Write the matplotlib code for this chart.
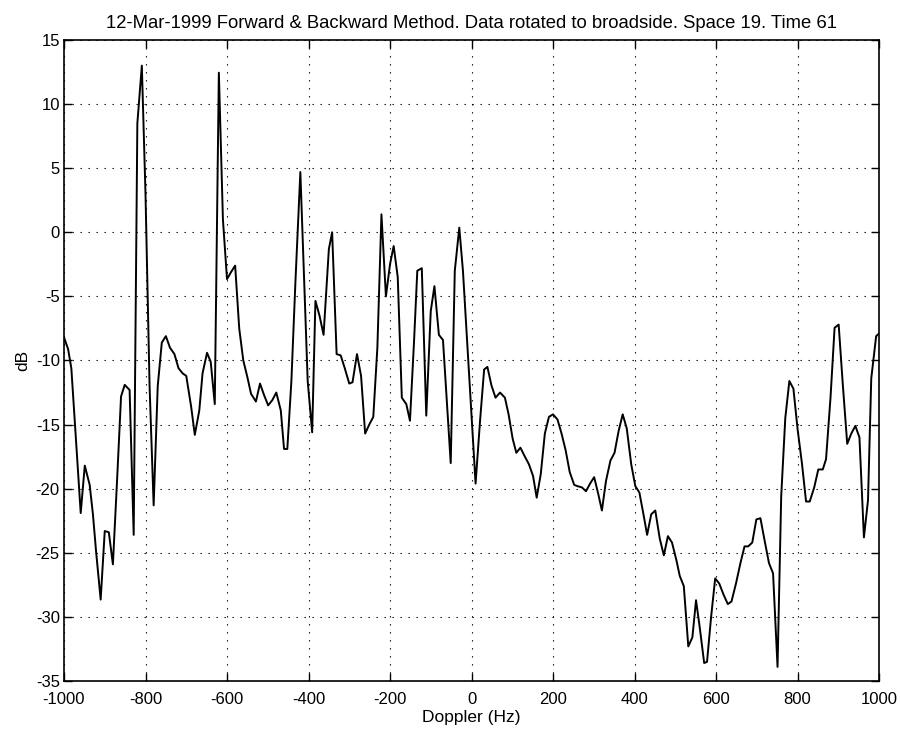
import matplotlib
matplotlib.use("Agg")
import matplotlib.pyplot as plt

plt.rcParams['font.family'] = ['Liberation Sans', 'DejaVu Sans']
plt.rcParams['axes.unicode_minus'] = False

title = "12-Mar-1999 Forward & Backward Method. Data rotated to broadside. Space 19. Time 61"
xlabel = "Doppler (Hz)"
ylabel = "dB"

doppler_hz = [
    -1000, -990, -982, -970, -959, -949, -937, -929, -921, -910,
    -900, -890, -880, -870, -860, -851, -839, -829, -820, -809,
    -800, -790, -780, -770, -760, -750, -740, -729, -719, -709,
    -700, -688, -679, -668, -660, -649, -640, -630, -620, -610,
    -600, -590, -580, -570, -560, -550, -541, -529, -519, -509,
    -499, -489, -479, -468, -460, -452, -442, -432, -420, -410,
    -402, -391, -383, -373, -363, -350, -342, -331, -321, -311,
    -300, -292, -281, -271, -261, -251, -241, -231, -221, -210,
    -200, -191, -181, -171, -160, -151, -141, -133, -122, -111,
    -100, -91, -80, -70, -61, -51, -41, -30, -21, 10,
    21, 31, 39, 49, 59, 70, 82, 91, 101, 110,
    120, 131, 141, 151, 160, 170, 180, 190, 200, 211,
    221, 231, 241, 252, 260, 271, 281, 291, 301, 311,
    320, 330, 341, 351, 361, 371, 381, 392, 402, 412,
    422, 431, 441, 451, 462, 472, 482, 492, 503, 511,
    521, 532, 542, 551, 560, 571, 578, 588, 598, 608,
    619, 629, 638, 649, 660, 670, 679, 689, 699, 709,
    719, 730, 740, 751, 760, 770, 780, 790, 800, 811,
    821, 830, 841, 851, 862, 870, 881, 891, 901, 911,
    922, 932, 942, 952, 963, 973, 981, 993, 1000,
]

power_db = [
    -8.2, -9.1, -10.6, -16.5, -21.9, -18.2, -19.7, -22.0, -25.0, -28.65,
    -23.3, -23.4, -25.9, -19.5, -12.8, -11.9, -12.3, -23.6, 8.5, 13.0,
    3.0, -12.0, -21.3, -12.0, -8.6, -8.1, -9.0, -9.5, -10.6, -11.0,
    -11.2, -13.6, -15.8, -13.9, -11.0, -9.4, -10.1, -13.4, 12.45, 1.0,
    -3.65, -3.1, -2.6, -7.5, -10.0, -11.3, -12.6, -13.2, -11.8, -12.7,
    -13.5, -13.1, -12.5, -13.9, -16.9, -16.9, -11.6, -3.8, 4.7, -4.3,
    -11.6, -15.6, -5.35, -6.5, -8.0, -1.3, 0.0, -9.5, -9.6, -10.6,
    -11.8, -11.7, -9.5, -11.2, -15.7, -15.0, -14.4, -9.0, 1.4, -5.0,
    -2.5, -1.07, -3.5, -12.9, -13.4, -14.7, -8.5, -3.0, -2.8, -14.3,
    -6.15, -4.2, -8.0, -8.4, -13.0, -18.0, -3.0, 0.36, -3.0, -19.6,
    -14.7, -10.7, -10.5, -11.95, -12.9, -12.5, -12.9, -14.2, -16.1, -17.2,
    -16.8, -17.5, -18.1, -19.0, -20.7, -18.85, -15.7, -14.4, -14.2, -14.6,
    -15.7, -17.0, -18.7, -19.7, -19.8, -19.9, -20.2, -19.6, -19.1, -20.4,
    -21.7, -19.4, -17.8, -17.2, -15.5, -14.2, -15.3, -18.1, -19.8, -20.3,
    -22.0, -23.6, -22.0, -21.7, -23.9, -25.2, -23.7, -24.2, -25.6, -26.8,
    -27.6, -32.3, -31.6, -28.7, -30.8, -33.6, -33.5, -30.0, -27.0, -27.4,
    -28.3, -29.0, -28.8, -27.4, -25.8, -24.5, -24.5, -24.2, -22.4, -22.3,
    -24.0, -25.8, -26.6, -33.9, -20.6, -14.5, -11.6, -12.2, -15.3, -18.05,
    -21.0, -21.0, -19.9, -18.5, -18.5, -17.7, -12.9, -7.45, -7.2, -11.8,
    -16.5, -15.7, -15.1, -16.0, -23.8, -20.9, -11.4, -8.1, -7.9,
]

xticks = [-1000, -800, -600, -400, -200, 0, 200, 400, 600, 800, 1000]
yticks = [-35, -30, -25, -20, -15, -10, -5, 0, 5, 10, 15]

fig = plt.figure(figsize=(9, 7.3), dpi=100)
ax = fig.add_axes([64 / 900, 1 - 681 / 730, 815 / 900, 641 / 730])
ax.plot(doppler_hz, power_db, color='black', linewidth=1.4)
ax.set_xlim(-1000, 1000)
ax.set_ylim(-35, 15)
ax.set_xticks(xticks)
ax.set_yticks(yticks)
ax.grid(True, color='black', linestyle=(0, (1.2, 6)), linewidth=0.8)
ax.tick_params(direction='in', length=6, width=1, top=True, right=True,
               labelsize=12, colors='black')
ax.tick_params(axis='x', pad=8)
ax.tick_params(axis='y', pad=3)
for s in ax.spines.values():
    s.set_linewidth(1.2)
ax.set_title(title, fontsize=13.3, pad=9)
ax.set_xlabel(xlabel, fontsize=12.5, labelpad=2)
ax.set_ylabel(ylabel, fontsize=12.5, labelpad=4)
fig.savefig("out.png", dpi=100, facecolor='white')
